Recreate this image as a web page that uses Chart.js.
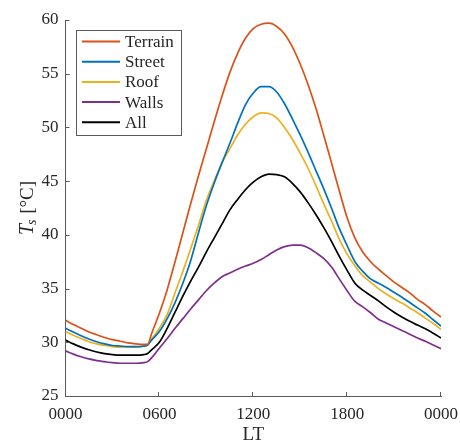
<!DOCTYPE html>
<html>
<head>
<meta charset="utf-8">
<script src="https://cdn.jsdelivr.net/npm/chart.js@4.4.1/dist/chart.umd.min.js"></script>
<style>
html,body{margin:0;padding:0;background:#ffffff;}
#wrap{width:460px;height:444px;position:relative;}
</style>
</head>
<body>
<div id="wrap"><canvas id="c" width="460" height="444"></canvas></div>
<script>
// ---- data (local time in hours, surface temperatures in °C) ----
const hours = [0,0.5,1,1.5,2,2.5,3,3.5,4,4.5,5,5.25,5.5,6,6.5,7,7.5,8,8.5,9,9.5,10,10.5,11,11.5,12,12.5,13,13.5,14,14.5,15,15.5,16,16.5,17,17.5,18,18.5,19,19.5,20,20.5,21,21.5,22,22.5,23,23.5,24];

const terrain = [32.05,31.65,31.3,30.95,30.7,30.45,30.25,30.1,29.95,29.85,29.8,29.8,
  30.8,32.7,34.9,37.5,40.2,42.9,45.5,48.0,50.5,52.9,
  55.1,56.9,58.3,59.2,59.6,59.7,59.4,58.7,57.5,55.9,
  54.0,51.8,49.3,46.7,44.1,41.6,39.7,38.4,37.5,36.8,
  36.2,35.6,35.1,34.6,34.0,33.5,32.9,32.35];

const street = [31.3,30.95,30.6,30.3,30.05,29.85,29.7,29.65,29.6,29.6,29.65,29.75,
  30.2,31.0,32.2,33.7,35.5,37.6,40.2,42.7,44.8,46.7,
  48.5,50.4,52.1,53.2,53.8,53.8,53.3,52.2,50.8,49.3,
  47.7,46.0,44.3,42.5,40.6,39.0,37.5,36.6,35.9,35.5,
  35.1,34.65,34.2,33.7,33.2,32.7,32.1,31.5];

const roof = [31.0,30.65,30.35,30.05,29.85,29.7,29.6,29.55,29.55,29.55,29.65,29.75,
  30.3,31.3,32.6,34.6,36.6,38.7,40.9,43.2,45.0,46.7,
  48.0,49.3,50.3,51.0,51.35,51.3,50.9,50.0,48.9,47.6,
  46.2,44.6,42.9,41.3,39.6,38.2,37.1,36.2,35.6,35.0,
  34.5,34.05,33.65,33.2,32.75,32.25,31.75,31.2];

const walls = [29.2,28.9,28.65,28.45,28.3,28.2,28.1,28.05,28.05,28.05,28.1,28.2,
  28.55,29.45,30.35,31.3,32.2,33.1,33.95,34.8,35.5,36.1,
  36.45,36.8,37.1,37.35,37.7,38.15,38.6,38.9,39.05,39.05,
  38.8,38.35,37.8,37.0,35.9,34.8,33.8,33.3,32.75,32.15,
  31.8,31.45,31.1,30.75,30.4,30.1,29.75,29.4];

const all = [30.2,29.85,29.55,29.3,29.1,28.95,28.85,28.8,28.8,28.8,28.85,28.95,
  29.3,30.0,31.3,32.8,34.3,35.7,37.0,38.4,39.7,41.0,
  42.3,43.3,44.2,44.9,45.4,45.65,45.6,45.4,44.8,44.0,
  43.0,41.9,40.7,39.4,38.0,36.7,35.5,34.85,34.35,33.85,
  33.3,32.8,32.35,31.95,31.6,31.25,30.85,30.4];

const seriesNames = ['Terrain','Street','Roof','Walls','All'];
const seriesColors = ['#D95319','#0072BD','#EDB120','#7E2F8E','#000000'];
const xTickLabels = ['0000','0600','1200','1800','0000'];
const xTitle = 'LT';
const yTitleMain = 'T', yTitleSub = 's', yTitleUnit = ' [°C]';

// ---- styles ----
const FONT = 'Liberation Serif';
const TEXT = '#262626';
const AXIS = '#5a5a5a';

function pts(vals){ return hours.map((h,i)=>({x:h, y:vals[i]})); }
const seriesValues = [terrain, street, roof, walls, all];

const datasets = seriesNames.map((n,i)=>({
  label:n, data:pts(seriesValues[i]),
  borderColor:seriesColors[i], backgroundColor:seriesColors[i],
  borderWidth:1.7, pointRadius:0, fill:false,
  cubicInterpolationMode:'monotone'
}));

const inwardTicks = {
  id:'inwardTicks',
  afterDatasetsDraw(chart){
    const {ctx, chartArea:a} = chart; const x = chart.scales.x, y = chart.scales.y;
    ctx.save(); ctx.strokeStyle = AXIS; ctx.lineWidth = 1; ctx.beginPath();
    x.ticks.forEach(t=>{ const px = Math.round(x.getPixelForValue(t.value)) - 0.5; ctx.moveTo(px, a.bottom); ctx.lineTo(px, a.bottom - 4); });
    y.ticks.forEach(t=>{ const py = Math.round(y.getPixelForValue(t.value)) + 0.5; ctx.moveTo(a.left, py); ctx.lineTo(a.left + 4, py); });
    ctx.stroke(); ctx.restore();
  }
};

const boxLegend = {
  id:'boxLegend',
  afterDraw(chart){
    const {ctx, chartArea:a} = chart;
    const x0 = Math.round(a.left + 10) + 0.5, y0 = Math.round(a.top + 10) + 0.5, w = 105, h = 105;
    ctx.save();
    ctx.fillStyle = '#ffffff'; ctx.fillRect(x0, y0, w, h);
    ctx.strokeStyle = AXIS; ctx.lineWidth = 1; ctx.strokeRect(x0, y0, w, h);
    ctx.font = '17px "' + FONT + '"'; ctx.textBaseline = 'middle'; ctx.textAlign = 'left';
    chart.data.datasets.forEach((d,i)=>{
      const cy = y0 + 11 + i * 20.2;
      ctx.strokeStyle = d.borderColor; ctx.lineWidth = 2;
      ctx.beginPath(); ctx.moveTo(x0 + 5.5, cy); ctx.lineTo(x0 + 43.5, cy); ctx.stroke();
      ctx.fillStyle = TEXT; ctx.fillText(d.label, x0 + 48.5, cy + 1);
    });
    ctx.restore();
  }
};

const yTitlePlugin = {
  id:'yTitlePlugin',
  afterDraw(chart){
    const {ctx, chartArea:a} = chart;
    const cy = (a.top + a.bottom) / 2;
    ctx.save(); ctx.translate(33, cy); ctx.rotate(-Math.PI/2);
    ctx.fillStyle = TEXT; ctx.textBaseline = 'alphabetic'; ctx.textAlign = 'left';
    const fT = 'italic 20px "' + FONT + '"', fS = 'italic 14px "' + FONT + '"', fU = '19px "' + FONT + '"';
    ctx.font = fT; const wT = ctx.measureText(yTitleMain).width;
    ctx.font = fS; const wS = ctx.measureText(yTitleSub).width;
    ctx.font = fU; const wU = ctx.measureText(yTitleUnit).width;
    let sx = -(wT + wS + wU) / 2;
    ctx.font = fT; ctx.fillText(yTitleMain, sx, 0);
    ctx.font = fS; ctx.fillText(yTitleSub, sx + wT - 1, 3);
    ctx.font = fU; ctx.fillText(yTitleUnit, sx + wT + wS, 0);
    ctx.restore();
  }
};

new Chart(document.getElementById('c'), {
  type:'line',
  data:{datasets},
  options:{
    responsive:false, animation:false, devicePixelRatio:1,
    layout:{padding:{left:0, right:19, top:20, bottom:0}},
    plugins:{legend:{display:false}, tooltip:{enabled:false}},
    scales:{
      x:{
        type:'linear', min:0, max:24,
        ticks:{stepSize:6, autoSkip:false, maxRotation:0, padding:8,
          callback:(v,i)=>xTickLabels[i],
          font:{family:FONT, size:17}, color:TEXT},
        grid:{display:true, drawOnChartArea:false, drawTicks:false},
        border:{display:true, color:AXIS, width:1},
        title:{display:true, text:xTitle, font:{family:FONT, size:19, lineHeight:1}, color:TEXT, padding:{top:0,bottom:-1}},
        afterFit:(s)=>{ s.height = 48; s.paddingLeft = 0; s.paddingRight = 0; }
      },
      y:{
        type:'linear', min:25, max:60,
        ticks:{stepSize:5, padding:7, font:{family:FONT, size:17}, color:TEXT},
        grid:{display:true, drawOnChartArea:false, drawTicks:false},
        border:{display:true, color:AXIS, width:1},
        afterFit:(s)=>{ s.width = 65.5; s.paddingTop = 0; s.paddingBottom = 0; }
      }
    }
  },
  plugins:[inwardTicks, boxLegend, yTitlePlugin]
});
</script>
</body>
</html>
